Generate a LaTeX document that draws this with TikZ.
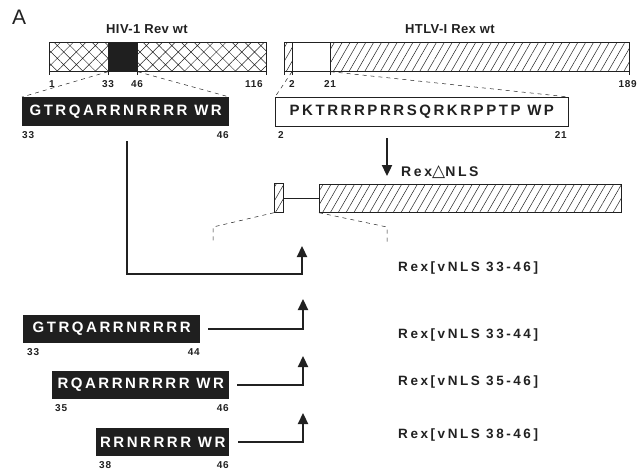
\documentclass[tikz,border=0pt]{standalone}
\usepackage{fontspec}
\setmainfont{Liberation Sans}
\newfontfamily\seqfont[LetterSpace=17]{Liberation Sans}
\newfontfamily\labfont[LetterSpace=19]{Liberation Sans}
\newfontfamily\titfont[LetterSpace=3]{Liberation Sans}
\newfontfamily\numfont[LetterSpace=8]{Liberation Sans}
\newfontfamily\trifont{DejaVu Sans}
\usetikzlibrary{patterns.meta,arrows.meta}
\definecolor{ink}{gray}{0.13}
\definecolor{boxc}{gray}{0.12}
\begin{document}
\begin{tikzpicture}[x=1pt,y=-1pt,
  bar/.style={draw=ink, line width=0.7pt, inner sep=0pt, anchor=north west, minimum height=29pt},
  xhatch/.style={pattern={Hatch[angle=45,distance=9pt,line width=0.5pt]}, pattern color=ink},
  lhatch/.style={pattern={Lines[angle=60,distance=6.8pt,line width=0.5pt]}, pattern color=ink},
  seqbox/.style={fill=boxc, text=white, inner sep=0pt, anchor=north west, minimum height=29pt, font=\seqfont\fontsize{15}{15}\selectfont\bfseries},
  wbox/.style={draw=ink, line width=0.7pt, fill=white, text=ink, inner sep=0pt, anchor=north west, minimum height=29pt, font=\seqfont\fontsize{15}{15}\selectfont\bfseries},
  num/.style={text=ink, inner sep=0pt, font=\numfont\fontsize{10}{10}\selectfont\bfseries},
  title/.style={text=ink, inner sep=0pt, font=\titfont\fontsize{13}{13}\selectfont\bfseries},
  rexlab/.style={text=ink, inner sep=0pt, anchor=west, font=\labfont\fontsize{13.5}{13.5}\selectfont\bfseries},
  conn/.style={draw=ink, line width=2.3pt, -{Triangle[width=10pt,length=11pt]}},
  dashln/.style={draw=ink, line width=0.5pt, dash pattern=on 4pt off 4pt},
  tickln/.style={draw=ink, line width=0.7pt}]
\useasboundingbox (0,0) rectangle (637,472);

% panel letter
\node[text=ink, inner sep=0pt, anchor=north west, font=\fontsize{21}{21}\selectfont] (lblA) at (12,10) {A};

% titles
\node[title] (t-hiv) at (147,29.5) {HIV-1 Rev wt};
\node[title] (t-htlv) at (450,29.5) {HTLV-I Rex wt};

% HIV-1 Rev bar
\node[bar, xhatch, minimum width=217pt] (hiv) at (49,42) {};
\node[bar, fill=boxc, minimum width=29pt] (rnls) at (108,42) {};
% HTLV-I Rex bar
\node[bar, lhatch, minimum width=345pt] (htlv) at (284,42) {};
\node[bar, fill=white, minimum width=38pt] (xnls) at (292,42) {};

% ticks
\foreach \x in {49,108,137,266,284,292,330,629} \draw[tickln] (\x,71) -- (\x,75);

% tick labels
\node[num] (n1) at (52,84) {1};
\node[num] (n33) at (108,84) {33};
\node[num] (n46) at (137,84) {46};
\node[num, anchor=east] (n116) at (263,84) {116};
\node[num] (n2) at (292,84) {2};
\node[num] (n21) at (330,84) {21};
\node[num, anchor=east] (n189) at (637,84) {189};

% sequence boxes (top)
\node[seqbox, minimum width=207pt] (sq0) at (22,97) {GTRQARRNRRRR WR};
\node[wbox, minimum width=293pt] (sqx) at (275,97) {PKTRRRPRRSQRKRPPTP WP};
\node[num, anchor=west] (a33) at (22,135) {33};
\node[num, anchor=east] (a46) at (229,135) {46};
\node[num, anchor=west] (a2) at (278,135) {2};
\node[num, anchor=east] (a21) at (567,135) {21};

% dashed zoom lines
\draw[dashln] (rnls.south west) -- (sq0.north west);
\draw[dashln] (rnls.south east) -- (sq0.north east);
\draw[dashln] (xnls.south west) -- (sqx.north west);
\draw[dashln] (xnls.south east) -- (sqx.north east);

% Rex delta NLS
\coordinate (d0) at (387,138);
\coordinate (d1) at (387,176);
\draw[conn] (d0) -- (d1);
\node[text=ink, inner sep=0pt, anchor=west, font=\labfont\fontsize{14}{14}\selectfont\bfseries] (dnls) at (401,172) {Rex{\trifont\fontsize{17}{17}\selectfont △}NLS};

\node[bar, lhatch, minimum width=9pt] (sm) at (274,183) {};
\node[bar, lhatch, minimum width=302pt, minimum height=28pt] (bg) at (319,184) {};
\draw[tickln] (sm.east) -- (sm.east -| bg.west);

\coordinate (dl1) at (213,227);
\coordinate (dl2) at (213,242);
\coordinate (dr1) at (387,227);
\coordinate (dr2) at (387,242);
\draw[dashln] (sm.south west) -- (dl1) -- (dl2);
\draw[dashln] (bg.south west) -- (dr1) -- (dr2);

% main connector 33-46
\coordinate (s0) at (127,141);
\coordinate (k0) at (302,274);
\coordinate (t0) at (302,246);
\draw[conn] (s0) |- (k0) -- (t0);
\node[rexlab] (r0) at (398,268) {Rex[vNLS 33-46]};

% deletion rows
\node[seqbox, minimum width=177pt, minimum height=28pt] (sq1) at (23,315) {GTRQARRNRRRR};
\node[num, anchor=west] (b33) at (27,352) {33};
\node[num, anchor=east] (b44) at (200,352) {44};
\coordinate (t1) at (303,299);
\draw[conn] ([xshift=8pt]sq1.east) -| (t1);
\node[rexlab] (r1) at (398,335) {Rex[vNLS 33-44]};

\node[seqbox, minimum width=177pt, minimum height=28pt] (sq2) at (52,371) {RQARRNRRRR WR};
\node[num, anchor=west] (c35) at (55,408) {35};
\node[num, anchor=east] (c46) at (229,408) {46};
\coordinate (t2) at (303,356);
\draw[conn] ([xshift=8pt]sq2.east) -| (t2);
\node[rexlab] (r2) at (398,382) {Rex[vNLS 35-46]};

\node[seqbox, minimum width=133pt, minimum height=28pt] (sq3) at (96,428) {RRNRRRR WR};
\node[num, anchor=west] (e38) at (99,465) {38};
\node[num, anchor=east] (e46) at (229,465) {46};
\coordinate (t3) at (303,413);
\draw[conn] ([xshift=9pt]sq3.east) -| (t3);
\node[rexlab] (r3) at (398,435) {Rex[vNLS 38-46]};
\end{tikzpicture}
\end{document}
